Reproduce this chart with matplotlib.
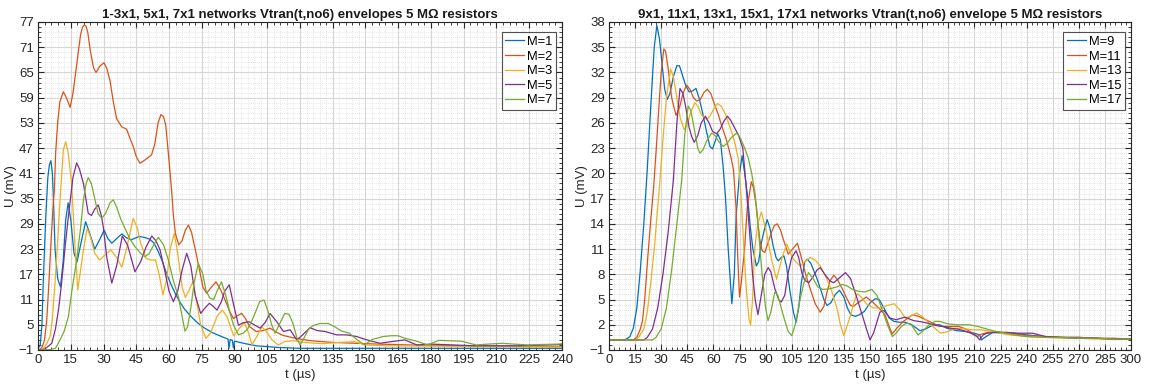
import matplotlib
matplotlib.use("Agg")
import matplotlib.pyplot as plt
from matplotlib.ticker import AutoMinorLocator

plt.rcParams['font.family'] = ['Liberation Sans', 'DejaVu Sans']

# ---------------- Left panel data ----------------
left_title = "1-3x1, 5x1, 7x1 networks Vtran(t,no6) envelopes 5 M\u03a9 resistors"
left_labels = ["M=1", "M=2", "M=3", "M=5", "M=7"]

m1_t = [0, 1, 1.8, 2.4, 3.5, 4.5, 5.2, 5.9, 6.6, 7.2, 7.8, 9, 10.3, 11.5, 12.7, 13.8, 15, 16.5, 17.9, 19.5, 21.8, 23.5, 26, 28, 30.3, 32, 33.8, 36, 38.4, 40.5, 42.7, 44.5, 46.3, 48.5, 51, 53, 55, 57, 59, 61, 63, 65, 67, 70, 73, 76, 80, 85, 87, 87.5, 88, 89, 89.5, 90, 95, 100, 110, 120, 240]
m1_u = [-0.5, 0, 5, 15, 30, 40, 43, 44, 41, 33, 23, 16, 14, 20, 30, 34, 30, 22, 20, 24, 29.5, 27, 23, 25, 27.5, 25.5, 24.4, 25.5, 26.6, 25.7, 25.2, 25.6, 26, 25.8, 25.4, 24.5, 22.5, 20, 17, 14.5, 12.3, 10.4, 8.8, 7, 5.5, 4.3, 3.1, 2, 1.6, -0.6, 1.5, 1.3, -0.5, 1.1, 0.5, 0, -0.4, -0.6, -0.6]

m2_t = [0, 1, 2, 3, 4, 5, 6, 7, 7.5, 8.1, 9, 10, 11.6, 13, 14.7, 16, 18, 19.5, 20.4, 21.2, 22, 22.8, 24, 25.5, 26.6, 28.3, 30.2, 31.5, 33, 34.5, 36, 38.3, 40.6, 42, 43.7, 45, 46.7, 49, 52, 53.5, 55, 56.3, 57.5, 58.5, 59.7, 61.2, 62, 63, 64.5, 66, 67.5, 68.9, 70.3, 72, 74, 75.5, 77.2, 79.5, 81.5, 83.5, 85.7, 87.5, 89.5, 91.5, 93.3, 95, 97, 100, 103, 106.3, 109, 112, 116, 120, 125, 135, 150, 170, 200, 240]
m2_u = [-1, -0.8, -0.2, 1.5, 6, 15, 25, 34, 37, 46, 53, 58, 60.4, 59, 56.7, 60, 68, 74, 75.8, 76.3, 76, 74.5, 70, 66, 65, 66.5, 67.3, 66, 63, 58, 54, 52.1, 51.5, 49.5, 47.3, 45, 43.4, 44.2, 45.4, 48, 53, 55, 54.5, 52.5, 45.8, 37, 31, 26.5, 24, 25, 27.5, 28.7, 27, 23, 18, 14, 12.5, 14, 15.2, 13.5, 10.9, 8.5, 6.5, 7.2, 7.7, 6.5, 4.5, 3.4, 3.6, 4.2, 3.3, 2.5, 2, 1.6, 1.2, 0.8, 0.5, 0.2, 0, -0.2]

m3_t = [0, 2, 3, 4, 5.5, 6.5, 7.8, 9, 10.1, 11.6, 12.7, 13.8, 15.4, 16.8, 18.2, 19.5, 20.8, 22.5, 24, 26, 28.2, 30.5, 33.3, 36, 38.4, 40.5, 43.6, 45.5, 47, 49.5, 51.5, 53.8, 55.5, 57.2, 59, 60.5, 62.4, 64, 66, 67.5, 69, 70.9, 72.5, 74.5, 76.9, 79, 82, 84.4, 86.5, 89.6, 92, 94.5, 96.5, 98, 100, 102.5, 104.5, 107, 110, 113, 117, 122, 130, 138, 145, 150, 160, 240]
m3_u = [-1, -0.8, -0.3, 0.5, 2.2, 6, 14.9, 25, 34.7, 46.6, 48.5, 46, 38.6, 25, 13.3, 18, 22.8, 27.9, 26, 22, 20.4, 21.5, 22.8, 21, 18.7, 23, 30.3, 28, 24.4, 20.8, 20.4, 20.4, 17, 12.1, 16, 23, 26.7, 22, 14, 11.5, 13, 15.2, 11, 5, 1.8, 3, 7, 8.5, 7, 2.4, 4, 5.5, 3, 0.2, 2, 4.5, 3.5, 1.5, 0.2, 1, 1.2, 0.8, 0.5, 0.8, 1, 0.2, 0, -0.3]

m5_t = [0, 3, 5, 6.3, 8, 9.5, 10.8, 12.5, 13.9, 16, 17.7, 19, 20.8, 23, 24.5, 26, 27.6, 29, 29.9, 31.5, 33.8, 36, 38.6, 41, 44.4, 47, 49.5, 52.1, 54, 55.9, 58, 60, 62, 64, 66, 68.1, 70, 72, 74.5, 76.5, 78.5, 80, 82, 84, 85.5, 87.6, 89.5, 91.8, 94, 96.8, 99, 101.7, 104, 106.3, 109.4, 112.4, 115.5, 118.5, 121, 124.6, 128, 131.5, 136.8, 141.4, 146, 150, 153.6, 156.7, 162, 168, 173.5, 180, 190, 200, 220, 240]
m5_u = [-1, -0.8, 0, 0.6, 4, 9, 14.9, 24, 30.7, 40, 43.5, 42, 38.6, 31.5, 31, 32.5, 33.5, 31, 28.3, 21, 14.9, 19, 26.1, 24, 17.6, 20, 23.5, 26.1, 25, 22.8, 18, 13, 10.5, 13, 18, 22, 19, 12, 7.7, 9, 10.1, 9.5, 8.5, 10.5, 13, 14.5, 10, 4.9, 5.5, 5.7, 5, 4.2, 5.5, 7.7, 5.7, 3.4, 3.8, 1.4, 2.5, 4.3, 3.6, 3.4, 2.6, 2.6, 2.2, 1.5, 1, 0.6, 1, 1.4, 0.2, 0.4, 0.2, 0, 0, 0.3]

m7_t = [0, 5.5, 8, 10.1, 12, 13.9, 15.5, 17.7, 19.5, 20.8, 22, 23, 24.5, 26.1, 27.5, 29.2, 31, 33, 34.5, 36, 38, 39.9, 42, 44.4, 47, 49, 51, 53, 55.1, 57.5, 59.7, 62, 64.3, 66, 67.3, 68.5, 70, 71.5, 73.4, 75.5, 77, 78.8, 80.5, 82, 84, 86, 88, 89.5, 91.8, 94, 96, 98, 100, 101.5, 103.5, 105.5, 107, 108.6, 110.5, 113, 115, 117, 118.5, 120, 122, 124, 126, 129, 133, 136, 139, 142.6, 146, 149.5, 153, 158, 162, 164.8, 168, 173.4, 178.5, 183.6, 188, 193.9, 200.7, 206, 212.7, 218, 224.6, 230, 238.3, 240]
m7_u = [-1, -0.9, -0.6, 1.4, 3.5, 6.9, 13, 20.4, 28, 34.7, 38.5, 40, 38.5, 34.7, 31.5, 30.3, 31.5, 34, 34.7, 33, 30, 27.9, 25.5, 23.6, 22, 21.2, 22, 24, 25.8, 24, 20.4, 15.5, 11.7, 7, 3.5, 4.5, 9, 15, 19.6, 17, 13, 11.3, 11, 13, 15.2, 12, 7.7, 5, 2.6, 3, 4, 6, 8.5, 10.5, 10.9, 8, 5, 3, 5, 7.7, 7.5, 5, 2, 0.2, 2, 4, 4.8, 5.3, 5.3, 4.5, 3.5, 3, 1.5, 0.2, 1.5, 2.2, 2.4, 2.4, 1.8, 1.1, 0.2, 1.3, 1.2, 1.1, 0.2, 0.4, 0.6, 0.4, 0.2, 0.3, 0.4, 0.5]

# ---------------- Right panel data ----------------
right_title = "9x1, 11x1, 13x1, 15x1, 17x1 networks Vtran(t,no6) envelope 5 M\u03a9 resistors"
right_labels = ["M=9", "M=11", "M=13", "M=15", "M=17"]

m9_t = [0, 8, 10, 12, 14, 16, 18, 20, 22, 24, 26, 27.5, 29, 30.5, 32, 33.5, 35, 37, 39, 40.5, 42, 44, 46, 48, 50, 52, 54, 56, 58, 59.5, 61, 62.5, 64, 65.5, 67, 68.5, 70.6, 72, 73.1, 75, 76.5, 78, 79.8, 81, 82.7, 84.7, 86, 87.6, 89.5, 90.9, 92.5, 94.3, 96, 97.2, 99, 100.5, 102, 104, 106, 107.5, 109, 110.5, 112.5, 114, 116, 119.5, 121.5, 123.5, 125.3, 127.5, 130, 132.5, 135, 137, 139, 141.5, 144, 146.8, 150, 153, 155.3, 158, 161, 163.8, 167, 170, 174, 178.7, 182, 186.4, 190, 194, 199.8, 205, 210, 213, 214, 216, 220.6, 226, 232, 240, 250, 260, 270, 280, 290, 300]
m9_u = [0.2, 0.2, 0.3, 0.6, 1.6, 4, 8.5, 14, 20.5, 28, 35, 37.6, 36, 33, 30, 28.8, 29.5, 31.5, 32.8, 32.8, 31.8, 30.5, 29.7, 29.8, 30.1, 28.8, 27, 25, 23.2, 22.9, 23.8, 24.7, 24, 21, 17, 11, 4.5, 8, 15, 20, 22.1, 20, 17, 14, 11, 9, 9.5, 11.8, 13.5, 14.5, 13.5, 11.4, 10, 9.6, 10, 10.2, 9, 6, 3.5, 2.3, 4, 7, 9.5, 9.8, 9.3, 7.5, 6.3, 5, 4.3, 4.6, 5.6, 6.1, 5.3, 4, 3.2, 3, 3.2, 3.6, 4.6, 5.1, 5, 4, 2.8, 2.4, 2.3, 2.3, 2, 1.3, 1.5, 2, 2, 1.6, 1.3, 1.2, 1, 0.8, 0.2, 0.5, 1.1, 1, 1, 0.8, 0.6, 0.5, 0.5, 0.4, 0.3, 0.3]

m11_t = [0, 14, 16, 18, 19.2, 20.5, 22.4, 24, 25.6, 27.5, 29, 30, 31.5, 32.5, 34, 36, 38.5, 40.5, 42.5, 44.6, 46.5, 48.5, 50.5, 52.5, 54.5, 56.5, 58.5, 60.5, 62.8, 65, 67.5, 70, 71.5, 73, 74, 75, 76, 77.9, 79.5, 81.8, 83, 84.7, 86.6, 88, 89.5, 91.5, 93.4, 95, 96.7, 98.5, 100.1, 103, 105.5, 108.3, 110.8, 113, 115.6, 118.5, 121.4, 123.5, 125.3, 127, 129.2, 131.5, 134, 136.5, 138.8, 140.5, 143, 147.9, 152, 156, 158.6, 161, 162.8, 165, 169.2, 174.5, 178, 182, 186, 190.5, 195, 201, 205, 209, 211.8, 213, 216, 220, 225, 230, 240, 250, 260, 270, 280, 290, 300]
m11_u = [0.2, 0.2, 0.5, 1.5, 2.4, 5, 10.3, 14.5, 18.2, 24, 29, 32, 34.8, 34.5, 32.5, 29, 26.9, 27.8, 29.5, 30.5, 30, 29, 28.6, 28.8, 29.6, 30, 29.5, 28.3, 27, 25.5, 24, 22, 20.5, 16, 10, 5.3, 7, 11, 16, 19, 18.3, 16, 12.2, 10.8, 10.6, 11.8, 13, 13.8, 14, 13.3, 12.2, 10.4, 11, 11.7, 9.8, 8, 6.3, 4.5, 3.5, 4.2, 5.9, 7.2, 7.9, 7.3, 6.3, 5.2, 4.3, 4.2, 4.6, 5.3, 4.6, 3.8, 3.2, 1.8, 0.9, 1.5, 2.4, 3.2, 3, 2.6, 2.2, 1.8, 1.8, 1.8, 1.5, 1, 0.6, 0.8, 1, 1.2, 1.1, 1, 0.7, 0.6, 0.5, 0.5, 0.4, 0.4, 0.3]

m13_t = [0, 15, 17, 20, 22, 24, 26, 28, 29.3, 31, 33, 35.4, 37, 39, 41, 43.3, 45, 47, 49.4, 51, 53, 56.1, 58, 60, 62.5, 64.5, 67, 70.5, 72.5, 74.3, 76, 77.5, 79, 80.5, 81.4, 82.5, 83.7, 85.5, 87.6, 90.5, 93.4, 96.3, 99.2, 102.1, 105.9, 109.8, 112.5, 115.6, 118.5, 121.4, 125.3, 128, 131.1, 133, 135, 137, 138.8, 140.5, 142.6, 145, 147.9, 152, 156.4, 160, 163.9, 167, 170.3, 173, 176.7, 180, 185, 190.5, 195, 199, 205, 210, 213.9, 220, 225, 230, 240, 250, 260, 270, 280, 290, 300]
m13_u = [0.2, 0.2, 0.5, 1.5, 3.5, 7, 11, 16, 19.2, 24, 29, 32.4, 31.5, 29, 26.5, 25.2, 25.8, 27.3, 28.4, 28, 27, 26.4, 26.8, 27.6, 28.3, 28, 27, 24.9, 23.5, 21.7, 17, 11, 6, 2.6, 2, 5, 11, 14, 15.4, 13, 9.8, 7.4, 9.8, 11.6, 9.8, 9, 9.5, 10, 9.7, 9, 7.4, 6, 3.9, 2, 0.7, 2, 3.1, 4.5, 5.7, 5.3, 4.5, 4, 4, 4.3, 4.5, 3.8, 2.8, 3, 3.4, 3, 2, 1, 1.2, 1.6, 1.5, 1.4, 1.4, 1.2, 1, 0.8, 0.6, 0.5, 0.4, 0.4, 0.3, 0.3, 0.3]

m15_t = [0, 20, 22, 25, 28, 31, 34, 37, 39, 40.8, 42.5, 44, 46, 47.5, 49, 51, 53, 55.4, 57.5, 59.5, 61.8, 64, 66, 68.1, 70, 72.5, 74.5, 76.9, 79, 80.8, 82.5, 84, 85.6, 87.5, 89.5, 91.5, 93, 95.3, 97.5, 99, 101, 103, 105, 107.5, 109, 110.8, 112.5, 114.7, 117, 119.5, 121.4, 124, 127, 129.2, 132, 135.9, 138.8, 142, 145, 148, 150, 152, 155.7, 158, 161.5, 165, 170, 175, 180.8, 185, 188.5, 192, 196.2, 200, 203.9, 208, 211.5, 213, 215, 217.3, 223, 228, 235, 243.3, 251, 260, 270, 280, 290, 300]
m15_u = [0.2, 0.2, 0.5, 1.5, 4, 8, 13, 19.2, 26, 30.1, 29.5, 28, 25.5, 24.4, 23.7, 24.5, 26, 26.8, 26, 25, 24.7, 25.3, 26.2, 26.8, 26.3, 25.3, 24.5, 23, 18, 13, 8, 5, 3.2, 5.5, 8, 8.8, 8.3, 6.3, 5, 4.7, 5.5, 8.2, 10, 10.8, 10, 8.2, 7.3, 7, 7.6, 8.5, 8.8, 8, 7.2, 7, 7.5, 8.2, 7.5, 5.5, 3.5, 1.5, 0.2, 1, 3.5, 3.7, 2.8, 2.6, 2.9, 2.5, 2.3, 2.1, 1.9, 1.8, 1.6, 1.5, 1.3, 1, 0.6, 0.2, 0.8, 1, 1.1, 1.1, 1, 1, 0.6, 0.5, 0.4, 0.4, 0.3, 0.3]

m17_t = [0, 25, 27, 30, 33, 36, 39, 41.8, 43.5, 45.5, 47, 49, 51, 52.3, 54, 56, 59, 61, 63, 65.7, 68, 70, 73.4, 75.5, 78, 80.1, 82, 84, 86, 88, 90, 91.4, 93, 95.3, 97, 99, 101, 103, 105, 107, 109.8, 112, 114.7, 117.6, 120, 123, 127.2, 131, 134, 137, 140, 143, 147, 151, 154, 157, 160, 162.8, 165, 168, 171, 173.5, 176, 177.7, 180, 184, 187.3, 190, 195, 200, 203.3, 207, 212, 217, 222.4, 228, 233, 240, 250, 260, 270, 280, 290, 300]
m17_u = [0.2, 0.2, 0.5, 1.5, 4, 8.5, 14, 19.2, 24.5, 28, 27.5, 25.3, 23, 22.4, 22.8, 23.8, 24.8, 24.5, 23.8, 23.2, 23.6, 24.2, 24.8, 24.2, 23, 21.8, 20, 17.5, 13, 8, 4, 2.5, 3.5, 5.9, 5.5, 4, 2.5, 1.2, 0.7, 2, 5, 7, 8.2, 7.4, 6.5, 6.2, 6.3, 6.5, 6.8, 6.6, 6.2, 6, 5.9, 6.2, 5.5, 3.8, 2, 0.6, 1, 1.8, 2.2, 2.1, 1.3, 0.8, 1.2, 2, 2.4, 2.4, 2.1, 2, 2, 2, 1.8, 1.5, 1.2, 1, 0.8, 0.6, 0.5, 0.5, 0.4, 0.4, 0.3, 0.3]

left_x_ticks = list(range(0, 241, 15))
left_y_ticks = list(range(-1, 78, 6))
right_x_ticks = list(range(0, 301, 15))
right_y_ticks = list(range(-1, 39, 3))

colors = ["#0072BD", "#D95319", "#EDB120", "#7E2F8E", "#77AC30"]

fig = plt.figure(figsize=(11.49, 3.87), dpi=100)
ax1 = fig.add_axes([38 / 1149, 1 - 350 / 387, (562 - 38) / 1149, (350 - 22) / 387])
ax2 = fig.add_axes([609 / 1149, 1 - 350 / 387, (1131 - 609) / 1149, (350 - 22) / 387])


def style(ax, xt, yt, xlim, ylim, title, labels):
    ax.set_xlim(*xlim)
    ax.set_ylim(*ylim)
    ax.set_xticks(xt)
    ax.set_yticks(yt)
    ax.xaxis.set_minor_locator(AutoMinorLocator(5))
    ax.yaxis.set_minor_locator(AutoMinorLocator(5))
    ax.grid(True, which='major', color='#d6d6d6', linewidth=0.8)
    ax.grid(True, which='minor', color='#d0d0d0', linewidth=0.5, linestyle=(0, (1, 2)))
    ax.set_axisbelow(True)
    ax.tick_params(which='both', direction='in', top=True, right=True, colors='#262626',
                   labelsize=9.5, labelcolor='#262626')
    ax.tick_params(which='major', length=4, width=0.8, pad=3)
    ax.tick_params(which='minor', length=2.2, width=0.6)
    for s in ax.spines.values():
        s.set_color('#262626')
        s.set_linewidth(0.8)
    ax.set_title(title, fontsize=9.5, fontweight='bold', color='#1a1a1a', pad=3)
    ax.set_xlabel("t (\u00b5s)", fontsize=9.5, color='#262626', labelpad=2)
    ax.set_ylabel("U (mV)", fontsize=9.5, color='#262626', labelpad=1)
    leg = ax.legend(labels, loc='upper right', bbox_to_anchor=(1 - 6 / 524, 1 - 10 / 328),
                    fontsize=9.3, frameon=True, fancybox=False,
                    edgecolor='#262626', handlelength=1.45, handletextpad=0.2,
                    borderpad=0.3, labelspacing=0.2, borderaxespad=0.0)
    leg.get_frame().set_linewidth(0.8)


left_series = [(m1_t, m1_u), (m2_t, m2_u), (m3_t, m3_u), (m5_t, m5_u), (m7_t, m7_u)]
right_series = [(m9_t, m9_u), (m11_t, m11_u), (m13_t, m13_u), (m15_t, m15_u), (m17_t, m17_u)]

for (t, u), c in zip(left_series, colors):
    ax1.plot(t, u, color=c, linewidth=0.9)
for (t, u), c in zip(right_series, colors):
    ax2.plot(t, u, color=c, linewidth=0.9)

style(ax1, left_x_ticks, left_y_ticks, (0, 240), (-1, 77), left_title, left_labels)
style(ax2, right_x_ticks, right_y_ticks, (0, 300), (-1, 38), right_title, right_labels)

fig.savefig("out.png", dpi=100, facecolor='white')
